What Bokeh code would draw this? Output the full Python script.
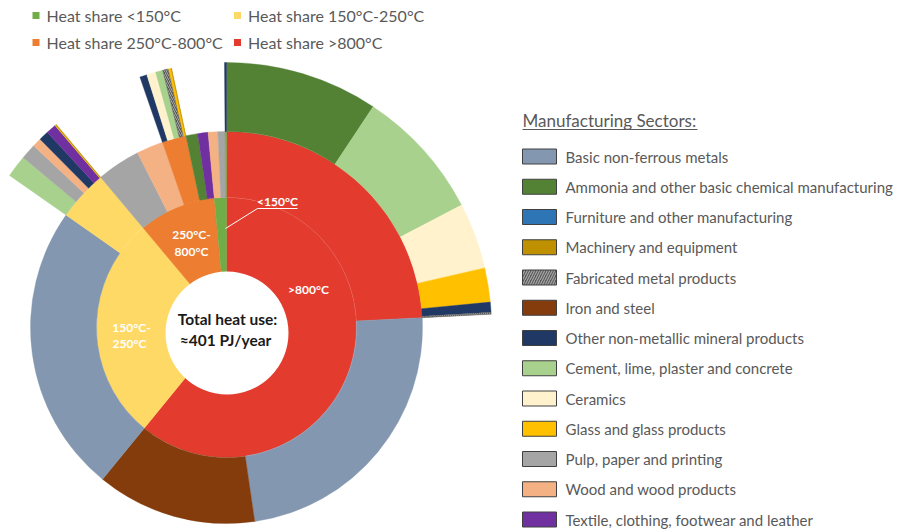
import math
from bokeh.plotting import figure
from bokeh.models import Range1d, ColumnDataSource
from bokeh.embed import file_html
from bokeh.resources import INLINE
from bokeh.core.properties import value

FONT = "Lato"

# ---------------- data ----------------
# Temperature bands, clockwise from 12 o'clock (share of total heat use, %)
band_keys = [">800", "150-250", "250-800", "<150"]
band_share = [60.9, 28.0, 9.6, 1.5]
band_colors = ["#E33B2E", "#FFD966", "#ED7D31", "#70AD47"]
band_legend = ["Heat share <150°C", "Heat share 150°C-250°C",
               "Heat share 250°C-800°C", "Heat share >800°C"]
band_legend_colors = ["#70AD47", "#FFD966", "#ED7D31", "#E33B2E"]

sector_names = [
    "Basic non-ferrous metals",
    "Ammonia and other basic chemical manufacturing",
    "Furniture and other manufacturing",
    "Machinery and equipment",
    "Fabricated metal products",
    "Iron and steel",
    "Other non-metallic mineral products",
    "Cement, lime, plaster and concrete",
    "Ceramics",
    "Glass and glass products",
    "Pulp, paper and printing",
    "Wood and wood products",
    "Textile, clothing, footwear and leather",
]
sector_colors = ["#8497B0", "#548235", "#2E75B6", "#BF9000", "#595959", "#843C0C",
                 "#203864", "#A9D18E", "#FFF2CC", "#FFC000", "#A5A5A5", "#F4B183", "#7030A0"]

# Sector split inside each band (% of total). "REST" = remainder shown exploded outwards
gt800_sectors = ["REST", "Basic non-ferrous metals", "Iron and steel"]
gt800_values = [24.2, 23.5, 13.2]
gt800_rest_sectors = ["Ammonia and other basic chemical manufacturing",
                      "Cement, lime, plaster and concrete", "Ceramics",
                      "Glass and glass products", "Other non-metallic mineral products",
                      "Fabricated metal products"]
gt800_rest_values = [9.33, 8.03, 4.03, 2.08, 0.62, 0.11]

b150_250_sectors = ["Basic non-ferrous metals", "REST"]
b150_250_values = [23.83, 4.17]
b150_250_rest_sectors = ["Cement, lime, plaster and concrete", "Pulp, paper and printing",
                         "Wood and wood products", "Other non-metallic mineral products",
                         "Textile, clothing, footwear and leather",
                         "Glass and glass products", "Machinery and equipment"]
b150_250_rest_values = [1.35, 0.95, 0.55, 0.60, 0.62, 0.05, 0.05]

b250_800_sectors = ["Pulp, paper and printing", "Wood and wood products", "REST",
                    "Ammonia and other basic chemical manufacturing",
                    "Textile, clothing, footwear and leather"]
b250_800_values = [3.60, 2.20, 1.98, 0.97, 0.85]
b250_800_rest_sectors = ["Other non-metallic mineral products", "Ceramics",
                         "Cement, lime, plaster and concrete", "Fabricated metal products",
                         "Glass and glass products", "Machinery and equipment"]
b250_800_rest_values = [0.44, 0.55, 0.44, 0.33, 0.18, 0.04]

lt150_sectors = ["Wood and wood products", "Pulp, paper and printing", "REST"]
lt150_values = [0.80, 0.58, 0.12]
lt150_rest_sectors = ["Other non-metallic mineral products"]
lt150_rest_values = [0.12]

outer_sectors = [gt800_sectors, b150_250_sectors, b250_800_sectors, lt150_sectors]
outer_values = [gt800_values, b150_250_values, b250_800_values, lt150_values]
rest_sectors = [gt800_rest_sectors, b150_250_rest_sectors, b250_800_rest_sectors, lt150_rest_sectors]
rest_values = [gt800_rest_values, b150_250_rest_values, b250_800_rest_values, lt150_rest_values]

# ---------------- geometry ----------------
W, H = 898, 529
def Y(y):
    return H - y

CX, CY = 226, Y(327)
R0, R1, R2, R3 = 50, 130, 196, 265
DEG_PER = 360.0 / sum(band_share)
col = dict(zip(sector_names, sector_colors))

def to_angles(a, b):
    # clockwise clock angles (deg from 12 o'clock) -> bokeh math angles
    return math.radians(90 - b), math.radians(90 - a)

p = figure(width=W, height=H, x_range=Range1d(0, W), y_range=Range1d(0, H),
           output_backend="svg", toolbar_location=None, min_border=0,
           x_axis_type=None, y_axis_type=None)
p.grid.visible = False
p.outline_line_color = None
p.background_fill_color = "white"
p.border_fill_color = "white"

wedges = dict(x=[], y=[], r_in=[], r_out=[], s=[], e=[], c=[])
hatched = dict(x=[], y=[], r_in=[], r_out=[], s=[], e=[])

def add(a, b, r_in, r_out, color, hatch=False):
    s, e = to_angles(a, b)
    d = hatched if hatch else wedges
    d["x"].append(CX); d["y"].append(CY)
    d["r_in"].append(r_in); d["r_out"].append(r_out)
    d["s"].append(s); d["e"].append(e)
    if not hatch:
        d["c"].append(color)

# inner ring (temperature bands)
start = 0.0
for share, c in zip(band_share, band_colors):
    end = start + share * DEG_PER
    add(start, end, R0, R1, c)
    start = end

# outer rings (sectors)
start = 0.0
for bi in range(len(band_keys)):
    for sec, v in zip(outer_sectors[bi], outer_values[bi]):
        end = start + v * DEG_PER
        if sec == "REST":
            add(start, end, R1, R2, band_colors[bi])
            a = start
            for rs, rv in zip(rest_sectors[bi], rest_values[bi]):
                b = a + rv * DEG_PER
                if rs == "Fabricated metal products":
                    add(a, b, R2, R3, None, hatch=True)
                else:
                    add(a, b, R2, R3, col[rs])
                a = b
        else:
            add(start, end, R1, R2, col[sec])
        start = end

p.annular_wedge(x="x", y="y", inner_radius="r_in", outer_radius="r_out",
                start_angle="s", end_angle="e", fill_color="c", line_color="c",
                line_width=0.4, source=ColumnDataSource(wedges))
p.annular_wedge(x="x", y="y", inner_radius="r_in", outer_radius="r_out",
                start_angle="s", end_angle="e", fill_color="#595959", line_color="#595959",
                line_width=0.4, hatch_pattern="/", hatch_color="#A6A6A6", hatch_scale=4,
                hatch_weight=1, source=ColumnDataSource(hatched))

# faint ring boundary inside the red region
sa, ea = to_angles(0, band_share[0] * DEG_PER)
p.arc(x=[CX], y=[CY], radius=R1, start_angle=sa, end_angle=ea,
      line_color="white", line_alpha=0.2, line_width=0.6)

# white centre disc carrying the total
p.circle(x=[226.5], y=[Y(332.5)], radius=61.5, fill_color="white", line_color=None)

# ---------------- labels on the chart ----------------
bold_white = dict(text_font=value(FONT), text_font_style="bold", text_color="white",
                  text_font_size="12px", text_baseline="middle", text_align="center")
p.text(x=[308], y=[Y(289)], text=[">800°C"], **bold_white)
p.text(x=[191, 191], y=[Y(234), Y(251)], text=["250°C-", "800°C"], **bold_white)
p.text(x=[131, 129], y=[Y(327), Y(343)], text=["150°C-", "250°C"], **bold_white)
p.text(x=[277], y=[Y(201)], text=["<150°C"], **bold_white)
p.line(x=[225, 257, 297], y=[Y(228), Y(208), Y(208)], line_color="white", line_width=1)

p.text(x=[227, 225], y=[Y(318), Y(339)], text=["Total heat use:", "≈401 PJ/year"],
       text_font=value(FONT), text_font_style="bold", text_color="#1a1a1a",
       text_font_size="15.5px", text_baseline="middle", text_align="center")

# ---------------- top legend (temperature) ----------------
lx = [35.5, 237, 35.5, 237]
ly = [15, 15, 42, 42]
p.rect(x=lx, y=[Y(v) for v in ly], width=7, height=7, fill_color=band_legend_colors,
       line_color=None)
p.text(x=[v + 10.5 for v in lx], y=[Y(v) for v in ly], text=band_legend,
       text_font=value(FONT), text_font_size="16px", text_color="#595959",
       text_baseline="middle", text_align="left")

# ---------------- right legend (sectors) ----------------
p.text(x=[522], y=[Y(120)], text=["Manufacturing Sectors:"], text_font=value(FONT),
       text_font_size="17px", text_color="#595959", text_baseline="middle", text_align="left")
p.line(x=[522, 697], y=[Y(129), Y(129)], line_color="#595959", line_width=1)

rows = [156 + i * 30.25 for i in range(len(sector_names))]
sw_plain = [i for i, n in enumerate(sector_names) if n != "Fabricated metal products"]
sw_hatch = [i for i, n in enumerate(sector_names) if n == "Fabricated metal products"]
p.rect(x=[539] * len(sw_plain), y=[Y(rows[i]) for i in sw_plain], width=34, height=15,
       fill_color=[sector_colors[i] for i in sw_plain], line_color="#404040", line_width=1)
p.rect(x=[539] * len(sw_hatch), y=[Y(rows[i]) for i in sw_hatch], width=34, height=15,
       fill_color="#595959", line_color="#404040", line_width=1, hatch_pattern="/",
       hatch_color="#A6A6A6", hatch_scale=5, hatch_weight=1.2)
p.text(x=[565] * len(sector_names), y=[Y(v) for v in rows], text=sector_names,
       text_font=value(FONT), text_font_size="15px", text_color="#595959",
       text_baseline="middle", text_align="left")

open("out.html", "w").write(file_html(p, INLINE))
